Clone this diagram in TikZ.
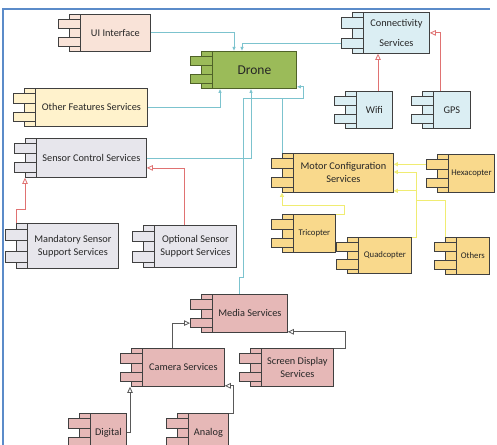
\documentclass[tikz,border=0pt]{standalone}
\usepackage{fontspec}
\setmainfont{Carlito}
\usetikzlibrary{calc,arrows.meta}
\definecolor{boxline}{HTML}{404040}
\definecolor{txt}{HTML}{262626}
\definecolor{cPeach}{HTML}{F9E3D8}
\definecolor{cCream}{HTML}{FFF2CC}
\definecolor{cDrone}{HTML}{9BBB59}
\definecolor{cDroneL}{HTML}{4F6228}
\definecolor{cBlue}{HTML}{DBEEF3}
\definecolor{cGray}{HTML}{E7E6EC}
\definecolor{cOrange}{HTML}{F9D98C}
\definecolor{cPink}{HTML}{E6B8B7}
\definecolor{lTeal}{HTML}{7CC3CE}
\definecolor{lRed}{HTML}{E07272}
\definecolor{lGray}{HTML}{595959}
\definecolor{lYellow}{HTML}{F0EC72}
\definecolor{frameC}{HTML}{5B8BC9}
\tikzset{
  boxdraw/.style={draw=boxline, line width=0.8pt},
  box/.style={boxdraw, inner sep=0pt, text=txt, align=center, font=\fontsize{10.3}{13}\selectfont},
  gpeach/.style={fill=cPeach},
  gcream/.style={fill=cCream},
  gdrone/.style={fill=cDrone, draw=cDroneL},
  gblue/.style={fill=cBlue},
  ggray/.style={fill=cGray},
  gorange/.style={fill=cOrange},
  gpink/.style={fill=cPink},
  small/.style={font=\fontsize{8.7}{11}\selectfont},
  tl/.style={draw=lTeal, line width=0.8pt, -{Latex[length=4pt,width=3.5pt]}},
  rd/.style={draw=lRed, line width=0.8pt, -{Triangle[open,length=6pt,width=5.5pt]}},
  gy/.style={draw=lGray, line width=0.8pt, -{Triangle[open,length=6pt,width=5.5pt]}},
  yl/.style={draw=lYellow, line width=1pt, -{Triangle[open,length=4pt,width=4pt]}},
}
\newcommand\mkcomp[7]{%
  \node[box,#6,anchor=north west,minimum width={#4-#2},minimum height={#5-#3}] (#1) at (#2,#3) {#7};
  \draw[boxdraw,#6] ($(#1.north west)+(-11,0)$) rectangle (#1.south west);
  \draw[boxdraw,#6] ($(#1.north west)!0.14!(#1.south west)+(-22,0)$) rectangle ($(#1.north west)!0.39!(#1.south west)$);
  \draw[boxdraw,#6] ($(#1.north west)!0.62!(#1.south west)+(-22,0)$) rectangle ($(#1.north west)!0.87!(#1.south west)$);
}
\begin{document}
\begin{tikzpicture}[x=1pt,y=-1pt]
\useasboundingbox (0,0) rectangle (497,444);
\clip (0,0) rectangle (497,444);
\fill[white] (0,0) rectangle (497,444);
\draw[frameC, line width=1.5pt] (3,446) -- (3,9) -- (490,9);

\mkcomp{ui}{80}{14}{150}{51}{gpeach}{UI Interface}
\mkcomp{drone}{212}{51}{296}{88}{gdrone,font=\fontsize{13.5}{16}\selectfont}{Drone}
\mkcomp{conn}{363}{12}{429}{53}{gblue}{Connectivity\\[7pt]Services}
\mkcomp{wifi}{356}{91}{392}{128}{gblue}{Wifi}
\mkcomp{gps}{433}{91}{470}{128}{gblue}{GPS}
\mkcomp{other}{35}{88}{147}{126}{gcream}{Other Features Services}
\mkcomp{sensor}{36}{138}{146}{177}{ggray}{Sensor Control Services}
\mkcomp{mand}{27}{223}{118}{268}{ggray}{Mandatory Sensor\\Support Services}
\mkcomp{opt}{154}{225}{236}{267}{ggray}{Optional Sensor\\Support Services}
\mkcomp{motor}{293}{153}{393}{192}{gorange}{Motor Configuration\\Services}
\mkcomp{hexa}{448}{154}{494}{192}{gorange,small}{Hexacopter}
\mkcomp{tri}{293}{214}{335}{252}{gorange,small}{Tricopter}
\mkcomp{quad}{358}{237}{411}{273}{gorange,small}{Quadcopter}
\mkcomp{others}{456}{237}{489}{274}{gorange,small}{Others}
\mkcomp{media}{212}{294}{287}{332}{gpink}{Media Services}
\mkcomp{camera}{142}{348}{224}{386}{gpink}{Camera Services}
\mkcomp{screen}{261}{348}{333}{386}{gpink}{Screen Display\\Services}
\mkcomp{digital}{90}{413}{126}{451}{gpink}{Digital}
\mkcomp{analog}{188}{413}{228}{451}{gpink}{Analog}

% teal connectors to Drone
\draw[tl] (ui.east) -| ($(drone.north west)+(22,0)$);
\draw[tl] ($(conn.north west)!0.75!(conn.south west)+(-22,0)$) -| ($(drone.north west)+(30,0)$);
\draw[tl] (other.east) -| ($(drone.south west)+(8,0)$);
\draw[tl] (sensor.east) -| ($(drone.south west)+(39,0)$);
\coordinate (j) at ($(drone.south east)+(7,10)$);
\draw[tl] ($(media.north west)+(27,0)$) -- ++(0,-17) -- ++(4,0) |- (j) |- ($(drone.south east)+(0,-2)$);
\draw[draw=lTeal, line width=0.8pt] ($(motor.north west)+(-11,0)$) |- (j);

% red generalisations
\draw[rd] ($(wifi.north west)+(22,0)$) coordinate (w) -- (w |- conn.south);
\draw[rd] ($(gps.north west)+(7,0)$) |- (conn.east);
\draw[rd] ($(mand.north west)+(-11,0)$) -- ++(0,-14) -| ($(sensor.south west)+(-11,0)$);
\draw[rd] ($(opt.north west)+(30,0)$) |- ($(sensor.east)+(0,10)$);

% gray generalisations
\draw[gy] ($(camera.north west)+(30,0)$) |- ($(media.north west)!0.75!(media.south west)+(-22,0)$);
\draw[gy] (screen.north east) -- ++(12,0) |- ($(media.south east)+(0,-1)$);
\draw[gy] (digital.east) -| ($(camera.south west)+(-12,0)$);
\draw[gy] (analog.north east) -- ++(5,0) |- ($(camera.south east)+(0,-1)$);

% yellow generalisations
\coordinate (hx) at ($(hexa.north west)!0.265!(hexa.south west)+(-22,0)$);
\draw[yl] (hx) -- (hx -| motor.east);
\draw[yl] (quad.north east) -- ++(5,0) |- ($(motor.north east)+(0,19)$);
\draw[yl] ($(others.north west)+(-11,0)$) |- ($(quad.north east)+(5,-37)$) |- ($(motor.south east)+(0,-2)$);
\draw[yl] (tri.north east) -- ++(9,0) -- ++(0,-9) -| ($(motor.south west)+(-11,0)$);
\end{tikzpicture}
\end{document}
